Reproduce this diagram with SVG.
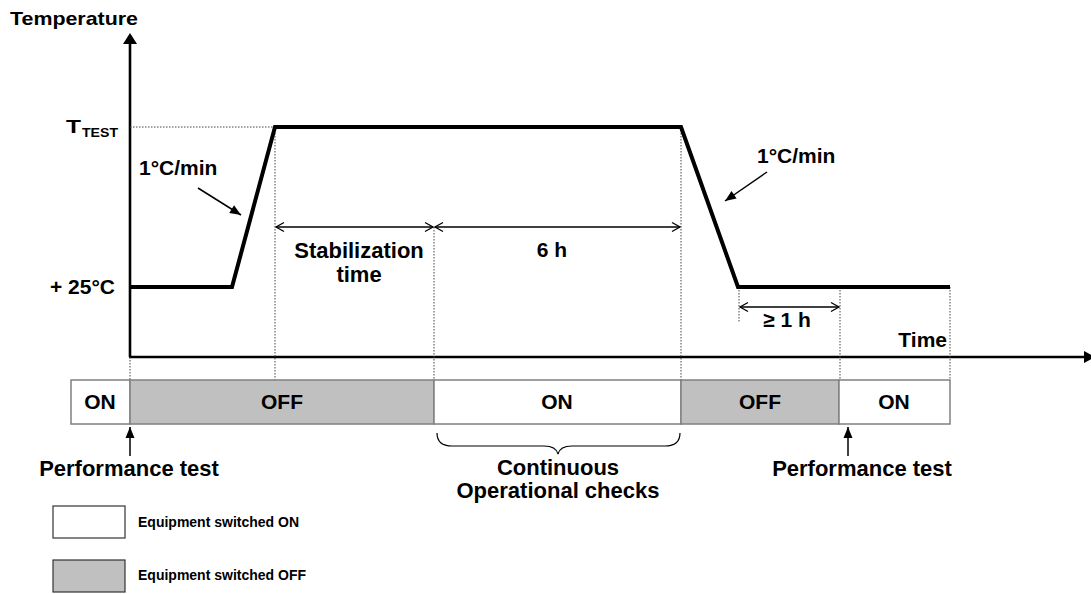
<svg xmlns="http://www.w3.org/2000/svg" width="1091" height="594" viewBox="0 0 1091 594">
  <defs>
    <style>
      text { font-family: "Liberation Sans", Arial, sans-serif; font-weight: bold; fill: #000; }
      .lbl { font-size: 21px; }
      .big { font-size: 22px; }
      .small { font-size: 14px; }
      .dot { stroke: #444; stroke-width: 1; stroke-dasharray: 1.5 1.5; fill: none; }
      .dim { stroke: #000; stroke-width: 1.3; fill: none; marker-start: url(#open); marker-end: url(#open); }
      .ptr { stroke: #000; stroke-width: 1.5; fill: none; marker-end: url(#solid); }
      .on { fill: #fff; stroke: #808080; stroke-width: 1.5; }
      .off { fill: #c0c0c0; stroke: #808080; stroke-width: 1.5; }
      .leg { stroke: #333; stroke-width: 1.2; }
    </style>
    <marker id="open" viewBox="-10 -6 12 12" markerWidth="12" markerHeight="12" refX="0" refY="0" orient="auto-start-reverse" markerUnits="userSpaceOnUse">
      <path d="M-8,-4.5 L0,0 L-8,4.5" stroke="#000" stroke-width="1.3" fill="none"/>
    </marker>
    <marker id="solid" viewBox="-12 -6 13 12" markerWidth="13" markerHeight="12" refX="0" refY="0" orient="auto" markerUnits="userSpaceOnUse">
      <path d="M-11,-4.5 L0,0 L-11,4.5 Z" fill="#000"/>
    </marker>
  </defs>
  <rect width="1091" height="594" fill="#fff"/>

  <g id="axes">
    <line x1="130" y1="42" x2="130" y2="357" stroke="#000" stroke-width="2.6"/>
    <path d="M130,33 L137,44 L123,44 Z" fill="#000"/>
    <line x1="129" y1="357" x2="1084" y2="357" stroke="#000" stroke-width="2.6"/>
    <path d="M1095,357 L1084,351 L1084,363 Z" fill="#000"/>
    <text x="10" y="25" textLength="128" lengthAdjust="spacingAndGlyphs" style="font-size:18.5px">Temperature</text>
    <text class="lbl" x="947" y="347" text-anchor="end">Time</text>
    <text x="66" y="133" style="font-size:18px" textLength="15" lengthAdjust="spacingAndGlyphs">T</text>
    <text x="82" y="137" style="font-size:12px" textLength="36" lengthAdjust="spacingAndGlyphs">TEST</text>
    <text class="lbl" x="115" y="294" text-anchor="end">+ 25°C</text>
  </g>

  <g id="guides">
    <line class="dot" x1="130" y1="127" x2="275" y2="127"/>
    <line class="dot" x1="130" y1="357" x2="130" y2="380"/>
    <line class="dot" x1="275" y1="127" x2="275" y2="380"/>
    <line class="dot" x1="434" y1="227" x2="434" y2="380"/>
    <line class="dot" x1="681" y1="127" x2="681" y2="380"/>
    <line class="dot" x1="739" y1="287" x2="739" y2="323"/>
    <line class="dot" x1="840" y1="287" x2="840" y2="380"/>
    <line class="dot" x1="950" y1="287" x2="950" y2="380"/>
  </g>

  <g id="profile">
    <polyline points="130,287 232,287 275,127 681,127 738,287 950,287" fill="none" stroke="#000" stroke-width="4" stroke-linejoin="miter"/>
  </g>

  <g id="connectors">
    <line class="ptr" x1="198" y1="188" x2="241" y2="215"/>
    <line class="ptr" x1="767" y1="172" x2="725" y2="201"/>
    <line class="dim" x1="276" y1="227" x2="433" y2="227"/>
    <line class="dim" x1="435" y1="227" x2="680" y2="227"/>
    <line class="dim" x1="740" y1="307" x2="839" y2="307"/>
    <line class="ptr" x1="130" y1="456" x2="130" y2="427"/>
    <line class="ptr" x1="848" y1="456" x2="848" y2="427"/>
    <path d="M437,433 Q437,446 452,446 L544,446 Q556,446 558,454 Q560,446 572,446 L665,446 Q680,446 680,433" fill="none" stroke="#000" stroke-width="1.2"/>
  </g>

  <g id="label-ramp-up"><text class="lbl" x="139" y="175">1°C/min</text></g>
  <g id="label-ramp-down"><text class="lbl" x="757" y="163">1°C/min</text></g>
  <g id="label-stab">
    <text class="big" x="359" y="258" text-anchor="middle">Stabilization</text>
    <text class="big" x="359" y="282" text-anchor="middle">time</text>
  </g>
  <g id="label-6h"><text class="lbl" x="552" y="257" text-anchor="middle">6 h</text></g>
  <g id="label-1h"><text class="lbl" x="787" y="327" text-anchor="middle">≥ 1 h</text></g>

  <g id="state-bar">
    <g id="s1"><rect class="on" x="71" y="380" width="59" height="44"/><text class="lbl" x="100" y="409" text-anchor="middle">ON</text></g>
    <g id="s2"><rect class="off" x="130" y="380" width="304" height="44"/><text class="lbl" x="282" y="409" text-anchor="middle">OFF</text></g>
    <g id="s3"><rect class="on" x="434" y="380" width="247" height="44"/><text class="lbl" x="557" y="409" text-anchor="middle">ON</text></g>
    <g id="s4"><rect class="off" x="681" y="380" width="158" height="44"/><text class="lbl" x="760" y="409" text-anchor="middle">OFF</text></g>
    <g id="s5"><rect class="on" x="839" y="380" width="111" height="44"/><text class="lbl" x="894" y="409" text-anchor="middle">ON</text></g>
  </g>

  <g id="perf1"><text class="big" x="129" y="476" text-anchor="middle">Performance test</text></g>
  <g id="perf2"><text class="big" x="862" y="476" text-anchor="middle">Performance test</text></g>
  <g id="checks">
    <text class="big" x="558" y="475" text-anchor="middle">Continuous</text>
    <text class="big" x="558" y="498" text-anchor="middle">Operational checks</text>
  </g>

  <g id="legend-on">
    <rect class="on leg" x="53" y="506" width="72" height="32"/>
    <text class="small" x="138" y="527">Equipment switched ON</text>
  </g>
  <g id="legend-off">
    <rect class="off leg" x="53" y="560" width="72" height="32"/>
    <text class="small" x="138" y="580">Equipment switched OFF</text>
  </g>
</svg>
